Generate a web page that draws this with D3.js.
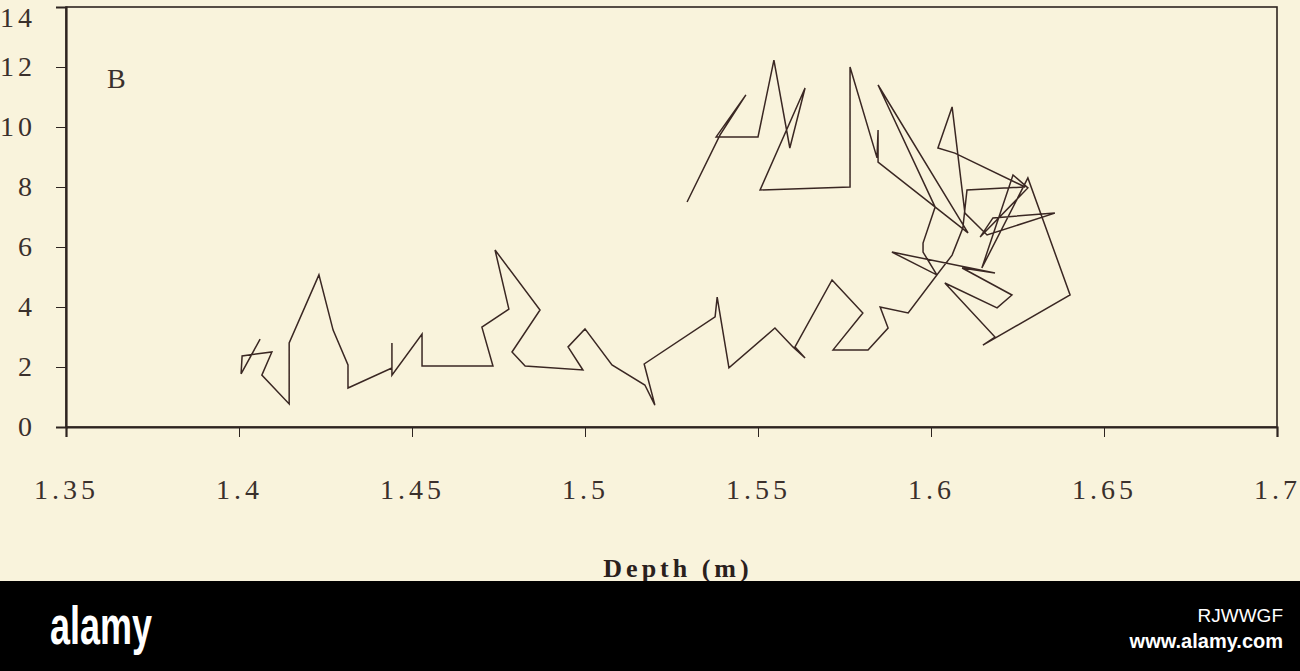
<!DOCTYPE html>
<html><head><meta charset="utf-8">
<script src="https://cdn.jsdelivr.net/npm/d3@7"></script>
<style>
html,body{margin:0;padding:0;background:#f9f3dc;}
svg{display:block;}
</style></head>
<body>
<svg id="c" width="1300" height="671"></svg>
<script>
// Data (Depth in m, value)
const depth = [1.4061,1.4006,1.4009,1.4095,1.4066,1.4145,1.4145,1.4231,1.4272,1.4315,1.4315,1.4442,1.4442,1.4442,1.4529,1.4529,1.4734,1.4702,1.4780,1.4740,1.4870,1.4789,1.4827,1.4994,1.4951,1.5000,1.5078,1.5173,1.5202,1.5171,1.5376,1.5382,1.5416,1.5549,1.5601,1.5636,1.5607,1.5714,1.5803,1.5717,1.5818,1.5876,1.5853,1.5934,1.6017,
1.5887,1.6185,1.6090,1.6234,1.6191,1.6040,1.6185,1.6150,1.6402,1.6280,1.6147,1.6237,1.6280,1.6142,1.6179,1.6358,1.6162,1.6098,1.6061,1.6020,1.6069,1.6272,1.6104,1.6092,1.6061,1.6017,
1.5977,1.5977,1.6012,1.5847,1.6107,1.5847,1.5847,1.5844,1.5766,1.5766,1.5506,1.5636,1.5592,1.5546,1.5500,1.5379,1.5465,1.5390,1.5295];
const values = [2.93,1.77,2.37,2.50,1.73,0.77,2.80,5.07,3.23,2.07,1.30,1.97,2.80,1.73,3.10,2.03,2.03,3.33,3.93,5.90,3.90,2.50,2.03,1.90,2.67,3.27,2.07,1.40,0.73,2.10,3.67,4.33,1.97,3.30,2.67,2.30,2.67,4.90,3.80,2.57,2.57,3.30,4.00,3.80,5.07,
5.83,5.13,5.30,4.40,3.97,4.80,3.00,2.73,4.40,8.30,5.30,8.40,7.97,6.33,6.97,7.13,6.40,7.13,10.67,9.30,9.13,8.00,7.90,6.63,5.73,5.07,
5.83,6.13,7.33,11.40,6.47,8.83,9.90,8.97,12.00,8.00,7.90,11.30,9.30,12.23,9.67,9.67,11.07,9.73,7.50];
const xTicks = [1.35,1.4,1.45,1.5,1.55,1.6,1.65,1.7];
const xTickLabels = ["1.35","1.4","1.45","1.5","1.55","1.6","1.65","1.7"];
const yTicks = [0,2,4,6,8,10,12,14];
const yTickLabels = ["0","2","4","6","8","10","12","14"];
const panelLabel = "B";
const xTitle = "Depth (m)";

const svg = d3.select("#c");
svg.append("rect").attr("x",0).attr("y",0).attr("width",1300).attr("height",581).attr("fill","#f9f3dc");

const x = d3.scaleLinear().domain([1.35,1.7]).range([66,1277]);
const y = d3.scaleLinear().domain([0,14]).range([427,7]);
const ink = "#2e2420";

// frame
svg.append("rect").attr("x",x(1.35)).attr("y",y(14)).attr("width",x(1.7)-x(1.35)).attr("height",y(0)-y(14))
  .attr("fill","none").attr("stroke",ink).attr("stroke-width",1.6);

const fontTick = "'Liberation Serif','DejaVu Serif',serif";

const ax = svg.append("g").attr("transform",`translate(0,${y(0)})`)
  .call(d3.axisBottom(x).tickValues(xTicks).tickSize(10).tickPadding(42)
    .tickFormat((d,i)=>xTickLabels[i]));
const ay = svg.append("g").attr("transform",`translate(${x(1.35)},0)`)
  .call(d3.axisLeft(y).tickValues(yTicks).tickSize(10).tickPadding(24)
    .tickFormat((d,i)=>yTickLabels[i]));
[ax,ay].forEach(g=>{
  g.select(".domain").attr("stroke",ink).attr("stroke-width",2.2);
  g.selectAll(".tick line").attr("stroke",ink).attr("stroke-width",1);
  g.selectAll(".tick text").attr("fill","#3a302c").attr("font-family",fontTick)
   .attr("font-size",28).attr("letter-spacing",4);
});
ay.selectAll(".tick text").attr("dx",4);
// keep the top label inside the picture
ay.selectAll(".tick text").filter(d=>d===14).attr("dy","0.7em");

// line
const line = d3.line().x((d,i)=>x(depth[i])).y((d,i)=>y(values[i]));
svg.append("path").datum(values).attr("d",line).attr("fill","none")
  .attr("stroke","#3a2723").attr("stroke-width",1.5).attr("stroke-linejoin","miter");

// panel label
svg.append("text").attr("x",107).attr("y",88).text(panelLabel)
  .attr("font-family",fontTick).attr("font-size",28).attr("fill","#3a302c");

// axis title
svg.append("text").attr("x",678).attr("y",577).attr("text-anchor","middle").text(xTitle)
  .attr("font-family",fontTick).attr("font-weight","bold").attr("font-size",26)
  .attr("letter-spacing",4).attr("fill","#2a201c");

// bottom band
svg.append("rect").attr("x",0).attr("y",581).attr("width",1300).attr("height",90).attr("fill","#000");
svg.append("text").attr("x",50).attr("y",644).text("alamy")
  .attr("font-family","'Liberation Sans Narrow','Liberation Sans',sans-serif").attr("font-weight","bold")
  .attr("font-size",54).attr("fill","#fff").attr("textLength",102).attr("lengthAdjust","spacingAndGlyphs");
svg.append("text").attr("x",1283).attr("y",622).attr("text-anchor","end").text("RJWWGF")
  .attr("font-family","'Liberation Sans',sans-serif").attr("font-size",19).attr("fill","#fff");
svg.append("text").attr("x",1283).attr("y",648).attr("text-anchor","end").text("www.alamy.com")
  .attr("font-family","'Liberation Sans',sans-serif").attr("font-weight","bold").attr("font-size",20).attr("fill","#fff");
</script>
</body></html>
